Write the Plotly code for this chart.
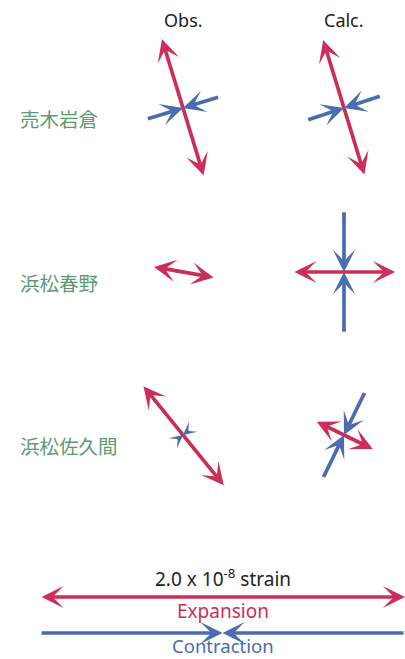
#Importing libraries
import numpy as np
import plotly.graph_objects as go

#Data (strain in units of 1e-9, azimuth in degrees clockwise from north)
stations=['売木岩倉','浜松春野','浜松佐久間']
columns=['Obs.','Calc.']
obs_exp=[7.9,3.4,7.1]
obs_exp_az=[-17,100,141]
obs_con=[4.2,0.35,1.0]
obs_con_az=[73,10,51]
calc_exp=[7.8,5.6,3.5]
calc_exp_az=[-17,90,116]
calc_con=[4.3,6.7,5.3]
calc_con_az=[72,0,26]
scale_strain=20  #2.0 x 10^-8
scale_label='2.0 x 10<sup>-8</sup> strain'

#Colours
RED='#cc2e5a'
BLUE='#4a6db0'
GREEN='#5c9a72'

#Layout: pixels per 1e-9 strain
PX=18.25
W,H=405,659
col_x=[183/PX,344/PX]
row_y=[108/PX,272/PX,435/PX]
legend_x=222.5/PX
legend_exp_y=597/PX
legend_con_y=633/PX

fig=go.Figure()
anns=[]

def ends(cx,cy,length,az):
    a=np.radians(az)
    dx=length/2*np.sin(a)
    dy=length/2*np.cos(a)
    return (cx+dx,cy-dy),(cx-dx,cy+dy)

#smaller heads for very short arrows
def head(length):
    return min(1.0,0.35+0.25*length)

def expansion(cx,cy,length,az):
    (x1,y1),(x2,y2)=ends(cx,cy,length,az)
    anns.append(dict(x=x1,y=y1,ax=x2,ay=y2,xref='x',yref='y',axref='x',ayref='y',
                     text='',showarrow=True,arrowside='end+start',arrowhead=3,
                     arrowsize=head(length),arrowwidth=3.7,arrowcolor=RED))

def contraction(cx,cy,length,az):
    for (x1,y1) in ends(cx,cy,length,az):
        anns.append(dict(x=cx,y=cy,ax=x1,ay=y1,xref='x',yref='y',axref='x',ayref='y',
                         text='',showarrow=True,arrowhead=3,
                         arrowsize=head(length),arrowwidth=3.7,arrowcolor=BLUE))

data=[(obs_exp,obs_exp_az,obs_con,obs_con_az),(calc_exp,calc_exp_az,calc_con,calc_con_az)]
for c,(e,ea,k,ka) in enumerate(data):
    for r in range(len(stations)):
        expansion(col_x[c],row_y[r],e[r],ea[r])
        contraction(col_x[c],row_y[r],k[r],ka[r])

#Column headers and station names
for c,name in enumerate(columns):
    anns.append(dict(x=col_x[c],y=20/PX,text=name,showarrow=False,xref='x',yref='y',
                     font=dict(size=18,color='#222222')))
for r,name in enumerate(stations):
    anns.append(dict(x=18/PX,y=(row_y[r]*PX+10)/PX,text=name,showarrow=False,xref='x',yref='y',
                     xanchor='left',font=dict(size=19.5,color=GREEN,family='Noto Sans CJK JP')))

#Scale legend
expansion(legend_x,legend_exp_y,scale_strain,90)
contraction(legend_x,legend_con_y,scale_strain,90)
anns.append(dict(x=legend_x,y=578/PX,text=scale_label,showarrow=False,xref='x',yref='y',
                 font=dict(size=19,color='#222222')))
anns.append(dict(x=legend_x,y=611/PX,text='Expansion',showarrow=False,xref='x',yref='y',
                 font=dict(size=19,color=RED)))
anns.append(dict(x=legend_x,y=645/PX,text='Contraction',showarrow=False,xref='x',yref='y',
                 font=dict(size=18.5,color=BLUE)))

fig.update_layout(width=W,height=H,margin=dict(l=0,r=0,t=0,b=0),
                  plot_bgcolor='white',paper_bgcolor='white',showlegend=False,
                  font=dict(family='Noto Sans, Noto Sans CJK JP'),annotations=anns)
fig.update_xaxes(range=[0,W/PX],visible=False)
fig.update_yaxes(range=[H/PX,0],visible=False)
#remove the page margin so the figure fills the window
fig.write_html("out.html",config={'displayModeBar':False},
               post_script="document.body.style.margin='0';")
